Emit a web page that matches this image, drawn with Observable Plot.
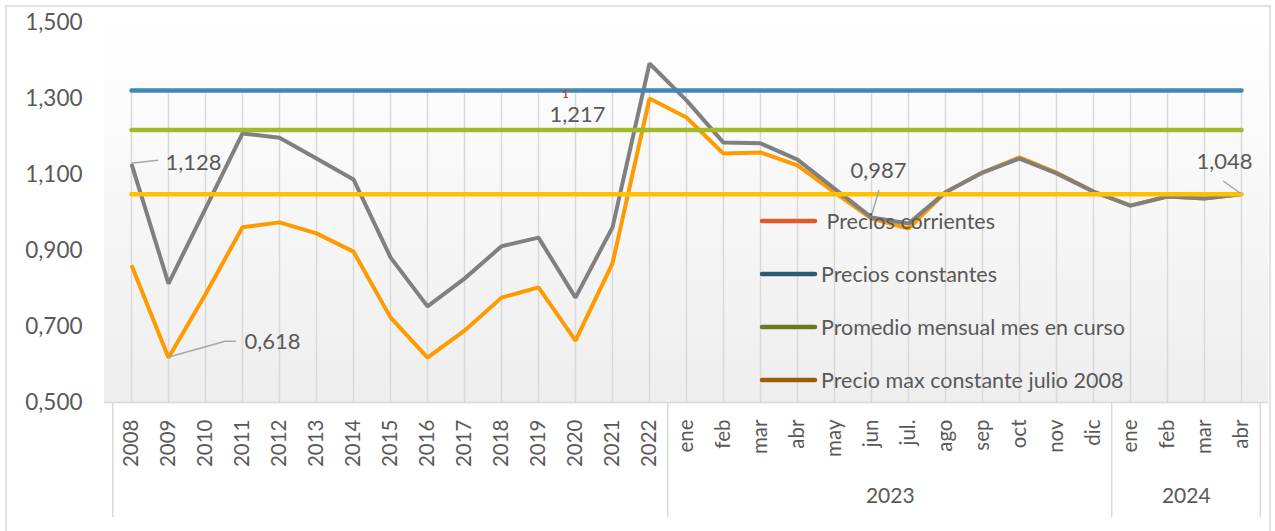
<!DOCTYPE html>
<html>
<head>
<meta charset="utf-8">
<script src="https://cdn.jsdelivr.net/npm/d3@7"></script>
<script src="https://cdn.jsdelivr.net/npm/@observablehq/plot@0.6"></script>
<style>
  html, body { margin: 0; padding: 0; background: #fff; }
  #chart { position: relative; width: 1275px; height: 531px; overflow: hidden; }
</style>
</head>
<body>
<div id="chart"></div>
<script>
// ---- data ----
const years = ["2008","2009","2010","2011","2012","2013","2014","2015","2016","2017","2018","2019","2020","2021","2022"];
const months2023 = ["ene","feb","mar","abr","may","jun","jul.","ago","sep","oct","nov","dic"];
const months2024 = ["ene","feb","mar","abr"];
const groupLabels = ["2023", "2024"];

const preciosConstantes = [1.128, 0.813, 1.010, 1.208, 1.197, 1.142, 1.087, 0.882, 0.753, 0.826, 0.911, 0.934, 0.776, 0.961, 1.392,
  1.295, 1.184, 1.182, 1.139, 1.063, 0.987, 0.971, 1.053, 1.105, 1.142, 1.103, 1.055,
  1.018, 1.042, 1.037, 1.048];
const preciosCorrientes = [0.861, 0.618, 0.785, 0.961, 0.974, 0.945, 0.897, 0.724, 0.618, 0.689, 0.776, 0.803, 0.663, 0.866, 1.300,
  1.250, 1.155, 1.158, 1.124, 1.053, 0.984, 0.958, 1.053, 1.105, 1.145, 1.105, 1.055,
  1.018, 1.042, 1.037, 1.048];
const refConstante = 1.321;   // blue line
const refPromedio = 1.217;    // green line
const refActual = 1.048;      // yellow line
const yTicks = [0.5, 0.7, 0.9, 1.1, 1.3, 1.5];

const legendItems = [" Precios corrientes", "Precios constantes", "Promedio mensual mes en curso", "Precio max constante julio 2008"];
const legendColors = ["#e0592a", "#2b5a74", "#6a7a1f", "#9a5c05"];

// data labels: category, value, text
const annotations = [
  {k: "2008", v: 1.128, text: "1,128"},
  {k: "2009", v: 0.618, text: "0,618"},
  {k: "2015", v: 1.217, text: "1,217"},
  {k: "2023-jun", v: 0.987, text: "0,987"},
  {k: "2024-abr", v: 1.048, text: "1,048"}
];
// label offsets (pixels) from the labelled point
const annOffsets = [[62, -1], [104, -16], [187, -15], [7, -46], [-17, -32]];

// ---- build table ----
const labels = [...years, ...months2023, ...months2024];
const keys = [...years, ...months2023.map(m => "2023-" + m), ...months2024.map(m => "2024-" + m)];
const labelOf = new Map(keys.map((k, i) => [k, labels[i]]));
const rows = keys.map((k, i) => ({k, constantes: preciosConstantes[i], corrientes: preciosCorrientes[i]}));
const refRows = (v) => keys.map(k => ({k, v}));

const W = 1275, H = 531, ML = 104, MR = 7, MT = 22, MB = 129;
const X0 = 123, X1 = 1248;
const step = (X1 - X0) / (keys.length - 1);
const fmt = v => v.toFixed(3).replace(".", ",");
const FONT = "Lato, 'Open Sans', sans-serif";
const TXT = "#595959";

const chart = Plot.plot({
  width: W, height: H,
  marginLeft: ML, marginRight: MR, marginTop: MT, marginBottom: MB,
  style: {fontFamily: FONT, color: TXT, background: "transparent"},
  x: {type: "point", domain: keys, range: [X0, X1], padding: 0, axis: null},
  y: {domain: [0.5, 1.5], axis: null},
  marks: [
    // vertical gridlines
    Plot.ruleX(keys, {x: d => d, stroke: "#d9d9d9", strokeWidth: 1.5, insetTop: 68}),
    // y axis labels
    Plot.axisY(yTicks, {tickSize: 0, tickPadding: 22, tickFormat: fmt, fontSize: 22.5, fill: TXT, anchor: "left"}),
    // category axis line
    Plot.ruleY([0.5], {stroke: "#d9d9d9", strokeWidth: 1.5}),
    // category dividers
    Plot.ruleX([keys[0], "2023-ene", "2024-ene"], {x: d => d, dx: -step / 2, stroke: "#d9d9d9", strokeWidth: 1.5, insetTop: 380, insetBottom: -115}),
    Plot.ruleX([keys[keys.length - 1]], {x: d => d, dx: step / 2, stroke: "#d9d9d9", strokeWidth: 1.5, insetTop: 380, insetBottom: -115}),
    // category labels (rotated)
    Plot.text(keys, {x: d => d, frameAnchor: "bottom", text: d => labelOf.get(d), rotate: -90, textAnchor: "end", lineAnchor: "middle", dy: 17, fontSize: 20.5, fill: TXT}),
    // group labels
    Plot.text([groupLabels[0]], {x: () => "2023-jun", frameAnchor: "bottom", text: d => d, dx: step / 2, dy: 100, fontSize: 21, fill: TXT}),
    Plot.text([groupLabels[1]], {x: () => "2024-feb", frameAnchor: "bottom", text: d => d, dx: step / 2, dy: 100, fontSize: 21, fill: TXT}),
    // series
    Plot.line(rows, {x: "k", y: "corrientes", stroke: "#ff9a00", strokeWidth: 4, strokeLinejoin: "miter", strokeLinecap: "butt"}),
    Plot.line(rows, {x: "k", y: "constantes", stroke: "#808080", strokeWidth: 4, strokeLinejoin: "miter", strokeLinecap: "butt"}),
    Plot.line(refRows(refConstante), {x: "k", y: "v", stroke: "#3f88b3", strokeWidth: 4.5}),
    Plot.line(refRows(refPromedio), {x: "k", y: "v", stroke: "#a5b828", strokeWidth: 4.5}),
    Plot.line(refRows(refActual), {x: "k", y: "v", stroke: "#ffc000", strokeWidth: 4.5}),
    // data labels
    ...annotations.map((a, i) => Plot.text([a], {x: "k", y: "v", text: "text", dx: annOffsets[i][0], dy: annOffsets[i][1], fontSize: 22, fill: TXT})),
    Plot.text(["1"], {x: () => "2015", y: () => refConstante, text: d => d, dx: 175, dy: 4, fontSize: 11, fontWeight: "bold", fill: "#c0392b"})
  ]
});

document.getElementById("chart").appendChild(chart);

// ---- decorations with the plot's own scales ----
const svg = d3.select(chart);
const sx = chart.scale("x"), sy = chart.scale("y");
const X = sx.apply ? (v => sx.apply(v)) : d3.scalePoint(sx.domain, sx.range).padding(sx.padding).align(sx.align ?? 0.5);
const Y = sy.apply ? (v => sy.apply(v)) : d3.scaleLinear(sy.domain, sy.range);

// background gradient for the plot area
const defs = svg.insert("defs", ":first-child");
const grad = defs.append("linearGradient").attr("id", "bg").attr("x1", 0).attr("x2", 0).attr("y1", 0).attr("y2", 1);
grad.append("stop").attr("offset", "0%").attr("stop-color", "#ffffff");
grad.append("stop").attr("offset", "100%").attr("stop-color", "#eeeeee");
svg.insert("rect", "defs + *")
  .attr("x", ML).attr("y", MT).attr("width", W - ML - MR).attr("height", H - MT - MB)
  .attr("fill", "url(#bg)");
// outer border
svg.append("rect").attr("x", 6).attr("y", 6).attr("width", 1264).attr("height", 540)
  .attr("fill", "none").attr("stroke", "#d9d9d9").attr("stroke-width", 1.5);

// leader lines: [category, value, dx, up]
const leaders = [
  [["2008", 1.128, 0, 0], ["2008", 1.128, 27, 3]],
  [["2009", 0.618, 0, 0], ["2009", 0.618, 57, 16], ["2009", 0.618, 68, 16]],
  [["2023-jun", 0.987, 1, 3], ["2023-jun", 0.987, 8, 27]],
  [["2024-abr", 1.048, 0, 0], ["2024-abr", 1.048, -18, 13]]
];
for (const pts of leaders) {
  svg.append("polyline")
    .attr("points", pts.map(([k, v, dx, up]) => `${X(k) + dx},${Y(v) - up}`).join(" "))
    .attr("fill", "none").attr("stroke", "#a6a6a6").attr("stroke-width", 1.5);
}

// legend
const lg = svg.append("g").attr("text-anchor", "start");
legendItems.forEach((t, i) => {
  const y = 221 + i * 53;
  lg.append("line").attr("x1", 762).attr("x2", 815).attr("y1", y).attr("y2", y)
    .attr("stroke", legendColors[i]).attr("stroke-width", 4.5).attr("stroke-linecap", "round");
  lg.append("text").attr("x", 821).attr("y", y).attr("dy", "0.35em")
    .attr("text-anchor", "start")
    .attr("font-size", 21.5).attr("font-family", FONT).attr("fill", TXT)
    .style("white-space", "pre").text(t);
});
</script>
</body>
</html>
